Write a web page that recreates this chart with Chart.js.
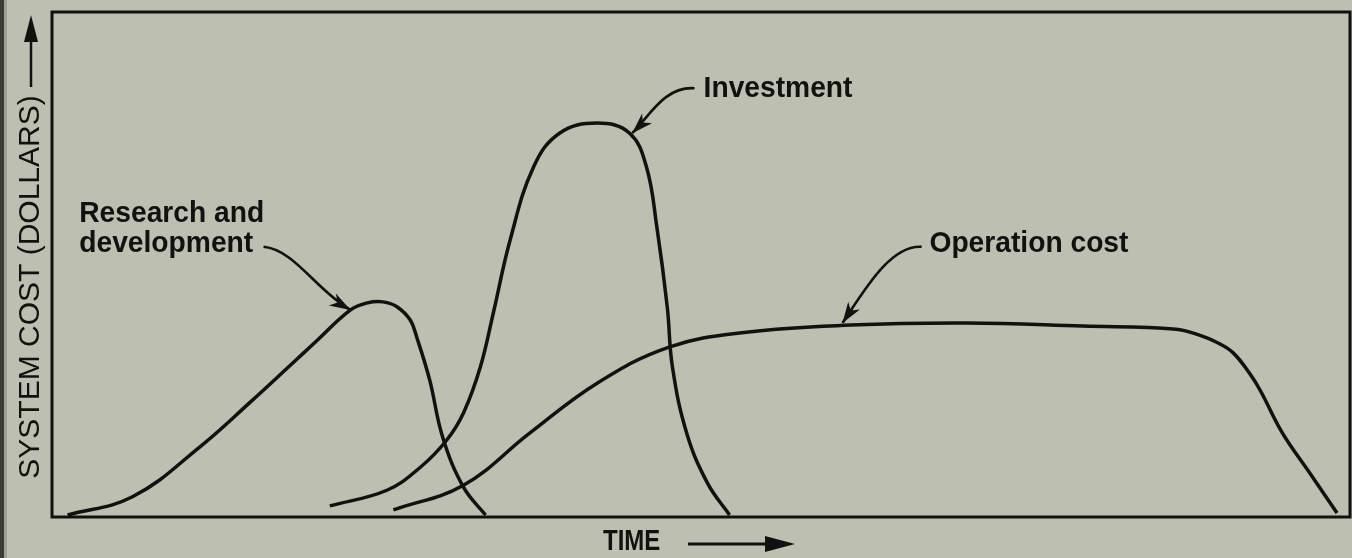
<!DOCTYPE html>
<html>
<head>
<meta charset="utf-8">
<script src="https://cdn.jsdelivr.net/npm/chart.js@4.4.1/dist/chart.umd.min.js"></script>
<style>
  html, body { margin: 0; padding: 0; background: #bdbfb1; overflow: hidden; }
  #wrap { position: relative; width: 1352px; height: 558px; }
</style>
</head>
<body>
<div id="wrap"><canvas id="costs" width="1352" height="558"></canvas></div>
<script>
  // ===== data (time / cost in 0-100 units) =====
  const rdTime = [1.2, 6.2, 11.4, 15.3, 18.3, 20.4, 23.0, 24.3, 25.5, 26.6, 27.6, 28.1, 29.1, 30.1, 31.7, 33.4];
  const rdCost = [0.4, 4.0, 13.9, 22.8, 29.9, 34.9, 41.0, 42.4, 42.6, 41.6, 39.0, 35.6, 27.1, 15.8, 5.9, 0.4];

  const invTime = [21.4, 25.8, 28.4, 30.4, 31.7, 33.0, 34.0, 35.3, 37.1, 39.1, 42.0, 44.5, 45.8, 46.6, 47.4, 47.8, 48.9, 50.5, 52.2];
  const invCost = [2.2, 5.3, 9.9, 15.2, 20.6, 29.7, 40.4, 54.9, 69.3, 76.0, 78.0, 76.0, 69.3, 57.4, 41.6, 29.7, 16.6, 6.7, 0.4];

  const opTime = [26.3, 31.7, 36.8, 42.0, 47.6, 53.5, 61.5, 70.5, 79.4, 86.6, 88.4, 89.8, 91.0, 92.3, 93.1, 94.8, 96.9, 99.0];
  const opCost = [1.4, 6.3, 16.6, 26.5, 33.7, 36.6, 38.0, 38.4, 37.8, 37.2, 36.0, 34.5, 32.5, 28.3, 25.0, 16.6, 8.7, 0.8];

  const seriesNames = ["Research and development", "Investment", "Operation cost"];
  const yTitle = "SYSTEM COST (DOLLARS)";
  const xTitle = "TIME";

  function points(xs, ys) {
    return xs.map(function (x, i) {
      return { x: x, y: ys[i] };
    });
  }

  // label text + curved pointer arrow, in data units
  const notes = [
    { lines: ["Research and", "development"], x: 2.1, y: 58.4, lead: 5.9,
      arrow: [[16.3, 53.5], [18.7, 52.9], [20.3, 45.0], [23.0, 41.0]] },
    { lines: ["Investment"], x: 50.2, y: 83.2, lead: 0,
      arrow: [[49.5, 84.9], [47.2, 85.3], [46.1, 79.6], [44.7, 76.0]] },
    { lines: ["Operation cost"], x: 67.6, y: 52.5, lead: 0,
      arrow: [[67.0, 53.5], [64.6, 53.9], [62.6, 45.0], [60.9, 38.4]] },
  ];

  const ink = "#111111";

  const drawing = {
    id: "drawing",
    beforeDraw: function (chart) {
      const ctx = chart.ctx;
      // dark scanned edge on the far left
      ctx.save();
      ctx.fillStyle = "#3c3d38";
      ctx.fillRect(0, 0, 4, chart.height);
      ctx.fillStyle = "#9fa194";
      ctx.fillRect(4, 0, 3, chart.height);
      ctx.restore();
    },
    afterDraw: function (chart) {
      const ctx = chart.ctx;
      const a = chart.chartArea;
      const sx = chart.scales.x;
      const sy = chart.scales.y;
      const px = function (v) { return sx.getPixelForValue(v); };
      const py = function (v) { return sy.getPixelForValue(v); };

      ctx.save();
      // frame
      ctx.strokeStyle = ink;
      ctx.lineWidth = 3;
      ctx.strokeRect(a.left, a.top, a.right - a.left, a.bottom - a.top);

      // annotations
      ctx.fillStyle = ink;
      ctx.font = "bold 30px 'Liberation Sans', Arial, sans-serif";
      ctx.textBaseline = "alphabetic";
      notes.forEach(function (n) {
        n.lines.forEach(function (t, i) {
          ctx.save();
          ctx.translate(px(n.x), py(n.y - i * n.lead));
          ctx.scale(0.94, 1);
          ctx.fillText(t, 0, 0);
          ctx.restore();
        });
        const p = n.arrow.map(function (q) { return [px(q[0]), py(q[1])]; });
        ctx.beginPath();
        ctx.lineWidth = 2.6;
        ctx.moveTo(p[0][0], p[0][1]);
        ctx.bezierCurveTo(p[1][0], p[1][1], p[2][0], p[2][1], p[3][0], p[3][1]);
        ctx.stroke();
        const ang = Math.atan2(p[3][1] - p[2][1], p[3][0] - p[2][0]);
        ctx.save();
        ctx.translate(p[3][0], p[3][1]);
        ctx.rotate(ang);
        ctx.beginPath();
        ctx.moveTo(0, 0);
        ctx.lineTo(-21, -7);
        ctx.lineTo(-15, 0);
        ctx.lineTo(-21, 7);
        ctx.closePath();
        ctx.fill();
        ctx.restore();
      });

      // y title with up arrow
      ctx.save();
      ctx.translate(a.left - 21, 287);
      ctx.rotate(-Math.PI / 2);
      ctx.font = "30px 'Liberation Sans', Arial, sans-serif";
      ctx.textAlign = "center";
      ctx.textBaseline = "middle";
      ctx.fillText(yTitle, 0, 0);
      ctx.lineWidth = 2.5;
      ctx.beginPath();
      ctx.moveTo(200, 0);
      ctx.lineTo(255, 0);
      ctx.stroke();
      ctx.beginPath();
      ctx.moveTo(272, 0);
      ctx.lineTo(245, -7);
      ctx.lineTo(245, 7);
      ctx.closePath();
      ctx.fill();
      ctx.restore();

      // x title with right arrow
      ctx.save();
      ctx.font = "bold 30px 'Liberation Sans', Arial, sans-serif";
      ctx.textBaseline = "middle";
      ctx.translate(603, 542);
      ctx.scale(0.8, 1);
      ctx.fillText(xTitle, 0, 0);
      ctx.restore();
      ctx.lineWidth = 3;
      ctx.beginPath();
      ctx.moveTo(688, 544);
      ctx.lineTo(775, 544);
      ctx.stroke();
      ctx.beginPath();
      ctx.moveTo(795, 544);
      ctx.lineTo(765, 536);
      ctx.lineTo(765, 552);
      ctx.closePath();
      ctx.fill();
      ctx.restore();
    },
  };

  const lineStyle = {
    showLine: true,
    borderColor: ink,
    borderWidth: 3.5,
    pointRadius: 0,
    fill: false,
    tension: 0.4,
  };

  const costs = document.getElementById("costs");
  new Chart(costs, {
    type: "scatter",
    plugins: [drawing],
    data: {
      datasets: [
        Object.assign({ label: seriesNames[0], data: points(rdTime, rdCost) }, lineStyle),
        Object.assign({ label: seriesNames[1], data: points(invTime, invCost) }, lineStyle),
        Object.assign({ label: seriesNames[2], data: points(opTime, opCost) }, lineStyle),
      ],
    },
    options: {
      responsive: false,
      animation: false,
      layout: {
        padding: { left: 52, right: 2, top: 12, bottom: 41 },
      },
      scales: {
        x: { type: "linear", min: 0, max: 100, display: false },
        y: { type: "linear", min: 0, max: 100, display: false },
      },
      plugins: {
        legend: { display: false },
        tooltip: { enabled: false },
      },
    },
  });
</script>
</body>
</html>
